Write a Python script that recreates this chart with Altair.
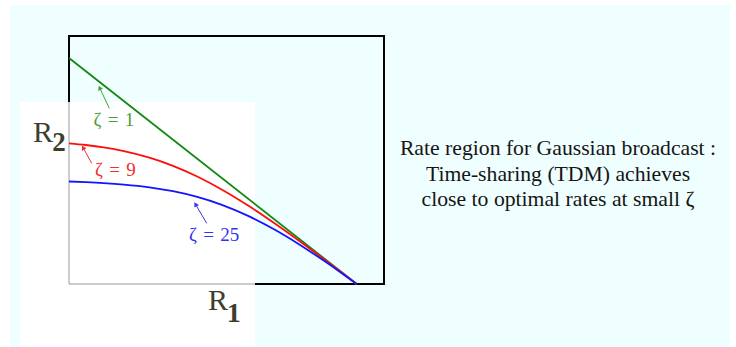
import altair as alt
import pandas as pd

# ---- data (normalized rates) ----
r1_tdm = [0.0, 1.0]
r2_tdm = [1.0, 0.0]
r1_sc = [0, 0.0585, 0.1204, 0.1909, 0.2796, 0.3613, 0.4456, 0.5290, 0.6226, 0.7142, 0.8018, 0.8828, 0.9456, 1.0]
r2_zeta9 = [0.6226, 0.6150, 0.6043, 0.5878, 0.5587, 0.5226, 0.4754, 0.4193, 0.3469, 0.2687, 0.1893, 0.1131, 0.0529, 0.0]
r2_zeta25 = [0.4535, 0.4507, 0.4467, 0.4401, 0.4277, 0.4106, 0.3854, 0.3514, 0.3014, 0.2409, 0.1738, 0.1057, 0.0500, 0.0]
series = ["ζ\u2004=\u20041", "ζ\u2004=\u20049", "ζ\u2004=\u200425"]
line_colors = ["#118811", "#ff0d0d", "#1414ff"]
label_colors = ["#4a9e3a", "#ee3030", "#3434f0"]
caption = ["Rate region for Gaussian broadcast :",
           "Time-sharing (TDM) achieves",
           "close to optimal rates at small ζ"]

rows = []
for a, b in zip(r1_tdm, r2_tdm):
    rows.append({"R1": a, "R2": b, "s": series[0]})
for a, b in zip(r1_sc, r2_zeta9):
    rows.append({"R1": a, "R2": b, "s": series[1]})
for a, b in zip(r1_sc, r2_zeta25):
    rows.append({"R1": a, "R2": b, "s": series[2]})
df = pd.DataFrame(rows)

one = alt.Data(values=[{"k": 0}])
serif = "Liberation Serif"

def box(x, x2, y, y2, **kw):
    return alt.Chart(one).mark_rect(**kw).encode(
        x=alt.value(x), x2=alt.value(x2), y=alt.value(y), y2=alt.value(y2))

def rule(x, x2, y, y2, **kw):
    return alt.Chart(one).mark_rule(**kw).encode(
        x=alt.value(x), x2=alt.value(x2), y=alt.value(y), y2=alt.value(y2))

def txt(t, x, y, **kw):
    return alt.Chart(one).mark_text(text=t, **kw).encode(x=alt.value(x), y=alt.value(y))

def head(x, y, ang, color):
    return alt.Chart(one).mark_point(shape="triangle-up", filled=True, size=28,
                                     angle=ang, color=color, opacity=1).encode(
        x=alt.value(x), y=alt.value(y))

bg = box(-59, 661, -31, 311, fill="#effefe", stroke=None)
frame = box(0, 315, 0, 248, fill=None, stroke="black", strokeWidth=2)
white = box(-49, 186, 66, 311, fill="white", stroke=None)
axy = rule(0, 0, 66, 248, color="#9a9a9a", strokeWidth=1)
axx = rule(0, 186, 248, 248, color="#9a9a9a", strokeWidth=1)

curves = alt.Chart(df).mark_line(strokeWidth=1.8, interpolate="monotone").encode(
    x=alt.X("R1:Q", scale=alt.Scale(domain=[0, 1.0949], nice=False), axis=None),
    y=alt.Y("R2:Q", scale=alt.Scale(domain=[0, 1.0973], nice=False), axis=None),
    color=alt.Color("s:N", scale=alt.Scale(domain=series, range=line_colors), legend=None),
    detail="s:N",
)

ann = [
    rule(40.3, 30.6, 72.3, 51.7, color=label_colors[0], strokeWidth=1),
    head(30.6, 51.7, 334.7, label_colors[0]),
    txt(series[0], 44.8, 84, font=serif, fontSize=19, color=label_colors[0]),
    rule(22.7, 14.1, 127.3, 111.6, color=label_colors[1], strokeWidth=1),
    head(14.1, 111.6, 331.3, label_colors[1]),
    txt(series[1], 46.3, 134, font=serif, fontSize=19, color=label_colors[1]),
    rule(137.7, 126.5, 187.3, 168.3, color=label_colors[2], strokeWidth=1),
    head(126.5, 168.3, 329.5, label_colors[2]),
    txt(series[2], 145.2, 199, font=serif, fontSize=19, color=label_colors[2]),
]

axis_labels = [
    txt("R", -36, 105.7, font=serif, fontSize=30, color="#3e3e2e", align="left", baseline="alphabetic"),
    txt("2", -16.7, 114.7, font=serif, fontSize=27, fontWeight="bold", color="#3e3e2e", align="left", baseline="alphabetic"),
    txt("R", 139, 274, font=serif, fontSize=30, color="#3e3e2e", align="left", baseline="alphabetic"),
    txt("1", 157.7, 285.7, font=serif, fontSize=28, fontWeight="bold", color="#3e3e2e", align="left", baseline="alphabetic"),
]

cap = [
    txt(caption[0], 489, 112, font=serif, fontSize=21.7, color="#151515"),
    txt(caption[1], 489, 137.5, font=serif, fontSize=21.7, color="#151515"),
    txt(caption[2], 489, 163, font=serif, fontSize=21.7, color="#151515"),
]

chart = alt.layer(bg, frame, white, axy, axx, curves, *ann, *axis_labels, *cap).properties(
    width=315, height=248,
    padding={"left": 69, "top": 36, "right": 352, "bottom": 63},
    autosize=alt.AutoSizeParams(type="none"),
    background="white",
).configure_view(stroke=None)

chart.save("out.html", embed_options={"renderer": "svg", "actions": False})
